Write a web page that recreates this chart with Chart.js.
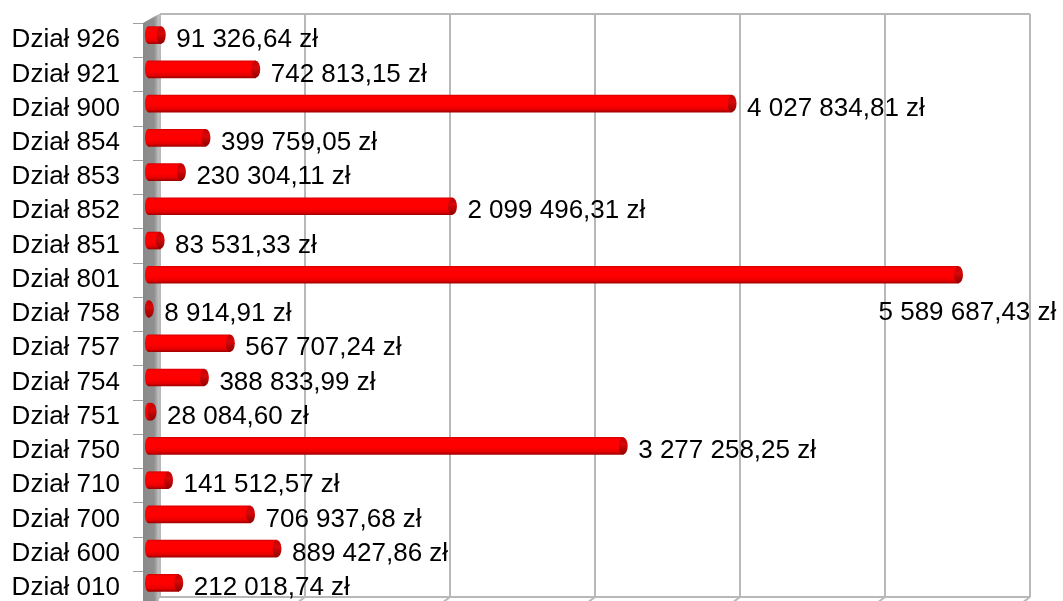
<!DOCTYPE html>
<html>
<head>
<meta charset="utf-8">
<script src="https://cdn.jsdelivr.net/npm/chart.js@4/dist/chart.umd.min.js"></script>
<style>
  html, body { margin: 0; padding: 0; background: #fff; }
</style>
</head>
<body>
<canvas id="chart" width="1063" height="601"></canvas>
<script>
// data, top row first
var labels = ['Dział 926', 'Dział 921', 'Dział 900', 'Dział 854', 'Dział 853', 'Dział 852',
  'Dział 851', 'Dział 801', 'Dział 758', 'Dział 757', 'Dział 754', 'Dział 751',
  'Dział 750', 'Dział 710', 'Dział 700', 'Dział 600', 'Dział 010'];
var values = [91326.64, 742813.15, 4027834.81, 399759.05, 230304.11, 2099496.31,
  83531.33, 5589687.43, 8914.91, 567707.24, 388833.99, 28084.60,
  3277258.25, 141512.57, 706937.68, 889427.86, 212018.74];
var gridValues = [0, 1000000, 2000000, 3000000, 4000000, 5000000, 6000000];

var FONT = '26px "Liberation Sans", Arial, sans-serif';
var DX = 12;   // depth offset of back wall
var DY = 5;

function zl(v) {
  var s = v.toFixed(2).split('.');
  var int = s[0].replace(/\B(?=(\d{3})+(?!\d))/g, ' ');
  return int + ',' + s[1] + ' zł';
}

var backdrop = {
  id: 'backdrop',
  beforeDatasetsDraw: function (chart) {
    var ctx = chart.ctx, a = chart.chartArea, xs = chart.scales.x;
    var top = a.top - 4, bottom = a.bottom - 3;
    ctx.save();
    // gridlines on back plane
    ctx.strokeStyle = '#b8b8b8';
    ctx.lineWidth = 2;
    gridValues.forEach(function (v) {
      var gx = xs.getPixelForValue(v) + DX;
      ctx.beginPath();
      ctx.moveTo(gx, top);
      ctx.lineTo(gx, bottom);
      ctx.stroke();
      ctx.beginPath();
      ctx.moveTo(gx, bottom);
      ctx.lineTo(gx - 8, bottom + 6);
      ctx.stroke();
    });
    var x0 = xs.getPixelForValue(0) + DX, x1 = xs.getPixelForValue(6000000) + DX;
    ctx.beginPath();
    ctx.moveTo(x0, top); ctx.lineTo(x1, top);
    ctx.moveTo(x0, bottom); ctx.lineTo(x1, bottom);
    ctx.stroke();
    // left wall
    var wl = a.left - 5, wr = a.left + DX - 1;
    var g = ctx.createLinearGradient(wl, 0, wr, 0);
    g.addColorStop(0, '#8a8a8a');
    g.addColorStop(0.7, '#8f8f8f');
    g.addColorStop(1, '#c4c4c4');
    ctx.fillStyle = g;
    ctx.beginPath();
    ctx.moveTo(wl, a.top + DY);
    ctx.lineTo(wr, top);
    ctx.lineTo(wr, chart.height);
    ctx.lineTo(wl, chart.height);
    ctx.closePath();
    ctx.fill();
    // category ticks
    ctx.strokeStyle = '#a0a0a0';
    ctx.lineWidth = 1;
    var step = (a.bottom - a.top) / labels.length;
    for (var i = 0; i < labels.length; i++) {
      var ty = Math.round(a.top + i * step + DY) + 0.5;
      ctx.beginPath();
      ctx.moveTo(wl - 10, ty);
      ctx.lineTo(wl, ty);
      ctx.stroke();
    }
    ctx.restore();
    // cylinder shading for bars
    chart.getDatasetMeta(0).data.forEach(function (el) {
      var h = el.height;
      var bg = ctx.createLinearGradient(0, el.y - h / 2, 0, el.y + h / 2);
      bg.addColorStop(0, '#d80000');
      bg.addColorStop(0.1, '#ff0000');
      bg.addColorStop(0.6, '#ff0000');
      bg.addColorStop(0.85, '#e40000');
      bg.addColorStop(1, '#a00000');
      el.options.backgroundColor = bg;
    });
  },
  afterDatasetsDraw: function (chart) {
    var ctx = chart.ctx, meta = chart.getDatasetMeta(0);
    var step = (chart.chartArea.bottom - chart.chartArea.top) / labels.length;
    ctx.save();
    meta.data.forEach(function (el, i) {
      var h = el.height;
      // left rounded start
      ctx.fillStyle = el.options.backgroundColor;
      ctx.beginPath();
      ctx.ellipse(el.base, el.y, 3, h / 2, 0, Math.PI / 2, Math.PI * 1.5);
      ctx.fill();
      // end cap
      var cg = ctx.createLinearGradient(0, el.y - h / 2, 0, el.y + h / 2);
      cg.addColorStop(0, '#c00000');
      cg.addColorStop(0.4, '#d80808');
      cg.addColorStop(1, '#900000');
      ctx.fillStyle = cg;
      ctx.beginPath();
      ctx.ellipse(el.x, el.y, 4.5, h / 2, 0, 0, Math.PI * 2);
      ctx.fill();
      // value label
      ctx.font = FONT;
      ctx.fillStyle = '#000';
      ctx.textBaseline = 'middle';
      ctx.textAlign = 'left';
      var txt = zl(values[i]);
      var tx = el.x + 15, ty = el.y + DY;
      if (tx + ctx.measureText(txt).width > chart.width) {
        tx = el.x - 80;
        ty = el.y + step + 4;
      }
      ctx.fillText(txt, tx, ty);
    });
    ctx.restore();
  }
};

new Chart(document.getElementById('chart'), {
  type: 'bar',
  data: {
    labels: labels,
    datasets: [{
      data: values,
      backgroundColor: function () { return '#ff0000'; },
      borderWidth: 0,
      barThickness: 17
    }]
  },
  options: {
    indexAxis: 'y',
    responsive: false,
    animation: false,
    layout: { padding: { top: 18, bottom: 1, right: 45, left: 0 } },
    plugins: { legend: { display: false }, tooltip: { enabled: false } },
    scales: {
      x: {
        display: false,
        min: 0,
        max: 6000000
      },
      y: {
        grid: { display: false, drawTicks: false },
        border: { display: false },
        afterFit: function (s) { s.width = 148; s.paddingTop = 0; s.paddingBottom = 0; },
        ticks: {
          color: '#000',
          padding: 28,
          labelOffset: 5,
          font: { family: '"Liberation Sans", Arial, sans-serif', size: 26 }
        }
      }
    }
  },
  plugins: [backdrop]
});
</script>
</body>
</html>
